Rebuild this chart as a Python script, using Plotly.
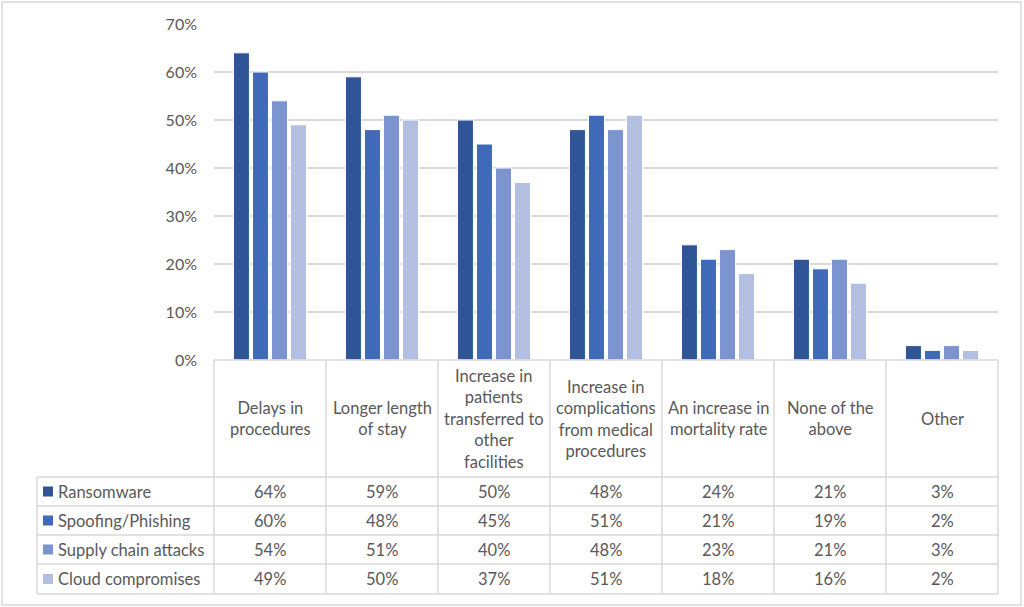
import plotly.graph_objects as go

categories = ["Delays in procedures", "Longer length of stay",
              "Increase in patients transferred to other facilities",
              "Increase in complications from medical procedures",
              "An increase in mortality rate", "None of the above", "Other"]
header_labels = ["Delays in<br>procedures", "Longer length<br>of stay",
                 "Increase in<br>patients<br>transferred to<br>other<br>facilities",
                 "Increase in<br>complications<br>from medical<br>procedures",
                 "An increase in<br>mortality rate", "None of the<br>above", "Other"]
series_names = ["Ransomware", "Spoofing/Phishing", "Supply chain attacks", "Cloud compromises"]
ransomware = [64, 59, 50, 48, 24, 21, 3]
spoofing = [60, 48, 45, 51, 21, 19, 2]
supply_chain = [54, 51, 40, 48, 23, 21, 3]
cloud = [49, 50, 37, 51, 18, 16, 2]
series_values = [ransomware, spoofing, supply_chain, cloud]
colors = ["#2F5597", "#4169B9", "#7B93CF", "#B2BFE0"]

W, H = 1024, 607
def px(p): return p / W
def py(p): return 1 - p / H

FONT = "Lato"
TXT = "#595959"
LINE = "#D9D9D9"
FS = 16.5

plot_left, plot_right = 214, 998
y0_px, y70_px = 360, 24
header_bottom = 477
row_lines = [477, 506, 535, 564, 594]
table_left = 37

fig = go.Figure()
for name, vals, c in zip(series_names, series_values, colors):
    fig.add_trace(go.Bar(x=categories, y=vals, name=name,
                         marker=dict(color=c, line=dict(color="white", width=1))))

shapes = []
shapes.append(dict(type="rect", xref="paper", yref="paper",
                   x0=px(2), x1=px(1021), y0=py(605), y1=py(2),
                   line=dict(color=LINE, width=1.5), layer="below"))
shapes.append(dict(type="line", xref="paper", yref="paper",
                   x0=px(plot_left), x1=px(plot_right), y0=py(y0_px), y1=py(y0_px),
                   line=dict(color=LINE, width=1.5)))
for yl in row_lines:
    shapes.append(dict(type="line", xref="paper", yref="paper",
                       x0=px(table_left), x1=px(plot_right), y0=py(yl), y1=py(yl),
                       line=dict(color=LINE, width=1.5)))
ncat = len(categories)
colw = (plot_right - plot_left) / ncat
for k in range(ncat + 1):
    xv = plot_left + k * colw
    shapes.append(dict(type="line", xref="paper", yref="paper",
                       x0=px(xv), x1=px(xv), y0=py(y0_px), y1=py(row_lines[-1]),
                       line=dict(color=LINE, width=1.5)))
shapes.append(dict(type="line", xref="paper", yref="paper",
                   x0=px(table_left), x1=px(table_left), y0=py(header_bottom), y1=py(row_lines[-1]),
                   line=dict(color=LINE, width=1.5)))

annotations = []
header_center = (y0_px + header_bottom) / 2
for cat, lab in zip(categories, header_labels):
    annotations.append(dict(x=cat, xref="x", y=py(header_center), yref="paper",
                            text=lab, showarrow=False, xanchor="center", yanchor="middle",
                            font=dict(family=FONT, size=FS, color=TXT)))
for i, (name, vals, c) in enumerate(zip(series_names, series_values, colors)):
    yc = (row_lines[i] + row_lines[i + 1]) / 2
    shapes.append(dict(type="rect", xref="paper", yref="paper",
                       x0=px(43), x1=px(53), y0=py(yc + 5), y1=py(yc - 5),
                       fillcolor=c, line=dict(width=0)))
    annotations.append(dict(x=px(56), xref="paper", y=py(yc), yref="paper",
                            text=name, showarrow=False, xanchor="left", yanchor="middle",
                            font=dict(family=FONT, size=FS, color=TXT)))
    for cat, v in zip(categories, vals):
        annotations.append(dict(x=cat, xref="x", y=py(yc), yref="paper",
                                text=f"{v}%", showarrow=False, xanchor="center", yanchor="middle",
                                font=dict(family=FONT, size=FS, color=TXT)))

fig.update_layout(
    width=W, height=H, autosize=False,
    margin=dict(l=0, r=0, t=0, b=0, pad=0, autoexpand=False),
    paper_bgcolor="white", plot_bgcolor="white",
    barmode="group", bargap=0.32, bargroupgap=0.16,
    showlegend=False,
    shapes=shapes, annotations=annotations,
    font=dict(family=FONT, color=TXT),
    xaxis=dict(domain=[px(plot_left), px(plot_right)], showticklabels=False, automargin=False,
               showgrid=False, zeroline=False, showline=False, ticks=""),
    yaxis=dict(domain=[py(y0_px), py(y70_px)], range=[0, 70], dtick=10, automargin=False,
               ticksuffix="%", showgrid=True, gridcolor=LINE, gridwidth=1.5,
               zeroline=False, showline=False, ticks="", ticklabelstandoff=16,
               tickfont=dict(family=FONT, size=16, color=TXT)),
)

fig.write_html("out.html", config={"displayModeBar": False},
               post_script="document.body.style.margin='0';document.body.style.overflow='hidden';")
